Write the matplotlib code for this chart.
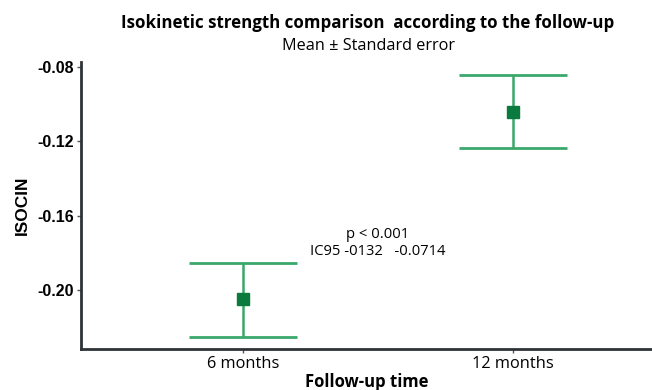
import matplotlib
matplotlib.use('Agg')
import matplotlib.pyplot as plt
import numpy as np

# data
groups = ['6 months', '12 months']
means = [-0.2048, -0.1042]
upper = [-0.1855, -0.0843]
lower = [-0.2251, -0.1236]
yticks = [-0.20, -0.16, -0.12, -0.08]
ytickLabels = ['-0.20', '-0.16', '-0.12', '-0.08']

lineCol = '#3aa86b'
markCol = '#0b7a3e'

fig = plt.figure(figsize=(6.52, 3.90), dpi=100)
ax = fig.add_axes([81/652., 41/390., 1 - 81/652., (349-62)/390.])

xPos = np.arange(len(groups))
errLo = np.array(means) - np.array(lower)
errHi = np.array(upper) - np.array(means)
ax.errorbar(xPos, means, yerr=[errLo, errHi], fmt='none', ecolor=lineCol,
            elinewidth=1.8, capsize=0, zorder=2)
# wide caps drawn as horizontal lines
capHalf = 0.2
for i in range(len(groups)):
    ax.hlines([upper[i], lower[i]], xPos[i] - capHalf, xPos[i] + capHalf,
              color=lineCol, lw=2.0, zorder=2)
ax.plot(xPos, means, 's', color=markCol, ms=9, zorder=3)

ax.set_xlim(-0.6, 1.515)
ax.set_ylim(-0.2318, -0.0773)
ax.set_xticks(xPos)
ax.set_xticklabels(groups, family='Open Sans', fontsize=11.8)
ax.set_yticks(yticks)
ax.set_yticklabels(ytickLabels, family='Liberation Sans', fontweight='bold',
                   fontsize=11.5)
ax.tick_params(axis='both', length=3, width=1, color='#555555', pad=2)

for side in ['top', 'right']:
    ax.spines[side].set_visible(False)
for side in ['left', 'bottom']:
    ax.spines[side].set_linewidth(2)
    ax.spines[side].set_color('#2e3338')

ax.set_ylabel('ISOCIN', family='Liberation Sans', fontweight='bold',
              fontsize=12.4, labelpad=5)
ax.set_xlabel('Follow-up time', family='Open Sans', fontweight='bold',
              fontsize=12.0, labelpad=1)

# annotation
ax.text(0.5, -0.1747, 'p < 0.001\nIC95 -0132   -0.0714', ha='center',
        va='center', family='Open Sans', fontsize=10.6, linespacing=1.15,
        bbox=dict(fc='white', ec='none', pad=3))

fig.text(368/652., 1 - 23/390., 'Isokinetic strength comparison  according to the follow-up',
         ha='center', va='center', family='Open Sans', fontweight='bold',
         fontsize=12.2)
fig.text(368/652., 1 - 46/390., 'Mean \u00b1 Standard error', ha='center',
         va='center', family='Open Sans', fontsize=11.7)

fig.savefig('out.png', dpi=100)
